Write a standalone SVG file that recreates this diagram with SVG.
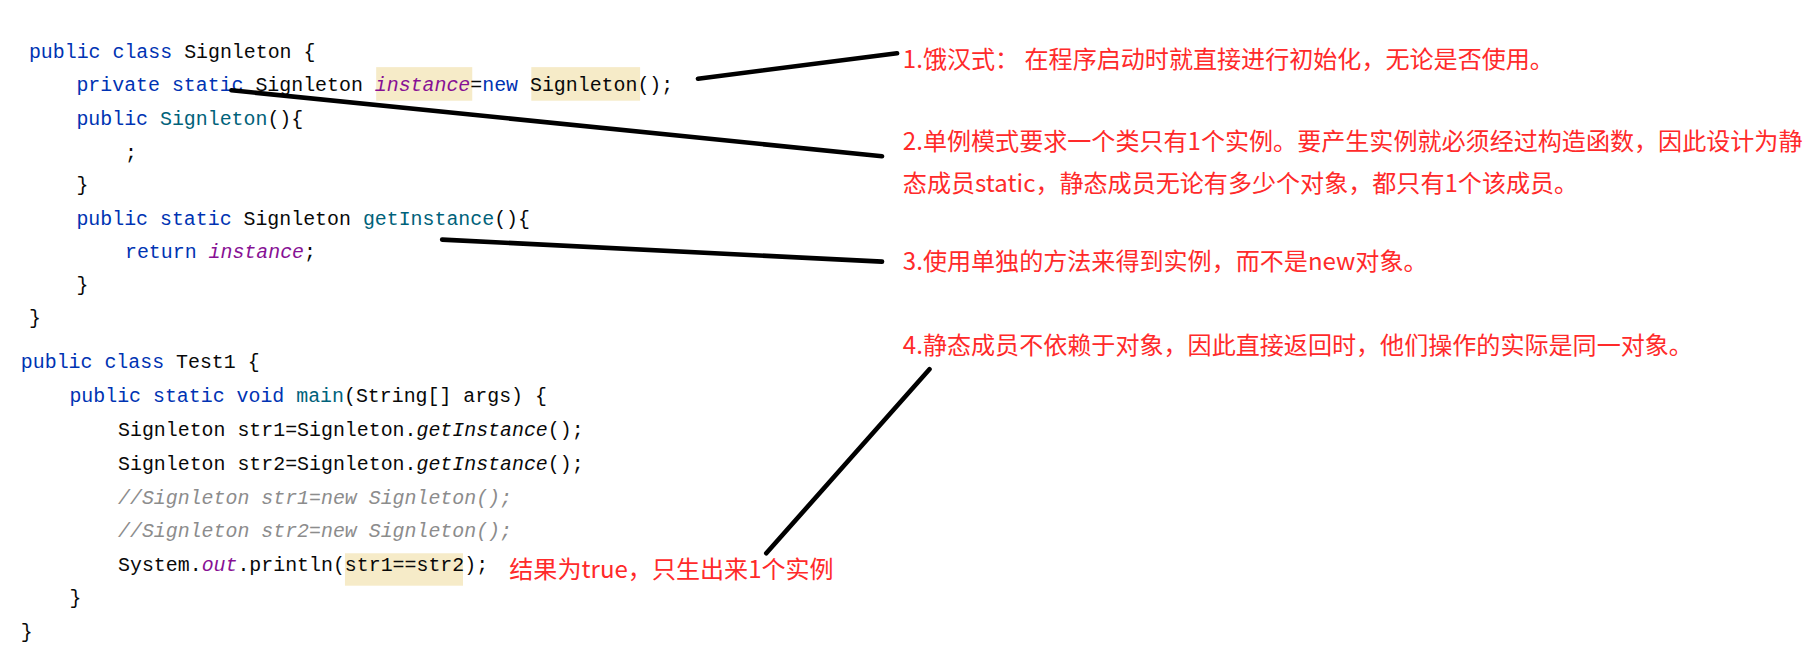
<svg xmlns="http://www.w3.org/2000/svg" width="1815" height="655" viewBox="0 0 1815 655">
<style>
.c{font-family:"Liberation Mono","DejaVu Sans Mono",monospace;font-size:17.2px;fill:#080808;white-space:pre}
.k{fill:#0033b3}.f{fill:#871094;font-style:italic}.m{fill:#00627a}.i{font-style:italic}.g{fill:#8c8c8c;font-style:italic}
.r{font-family:"Noto Sans CJK SC","Noto Sans",sans-serif;font-size:20.8px;fill:#ff2a2a}
.hl{fill:#f6ebc8}
.ln{stroke:#000;stroke-width:4;stroke-linecap:round;fill:none}
</style>
<rect width="1815" height="655" fill="#fff"/>
<g transform="scale(1.1575)">
<g id="code">
<rect class="hl" x="325" y="58" width="83" height="29"/>
<rect class="hl" x="459" y="58" width="94" height="29"/>
<rect class="hl" x="298" y="478" width="102" height="28"/>
<text class="c" x="25" y="50"><tspan class="k">public class </tspan>Signleton {</text>
<text class="c" x="66" y="79"><tspan class="k">private static </tspan>Signleton <tspan class="f">instance</tspan>=<tspan class="k">new </tspan>Signleton();</text>
<text class="c" x="66" y="108"><tspan class="k">public </tspan><tspan class="m">Signleton</tspan>(){</text>
<text class="c" x="108" y="137" fill="#8c8c8c">;</text>
<text class="c" x="66" y="165">}</text>
<text class="c" x="66" y="194"><tspan class="k">public static </tspan>Signleton <tspan class="m">getInstance</tspan>(){</text>
<text class="c" x="108" y="223"><tspan class="k">return </tspan><tspan class="f">instance</tspan>;</text>
<text class="c" x="66" y="251">}</text>
<text class="c" x="25" y="280">}</text>
<text class="c" x="18" y="318"><tspan class="k">public class </tspan>Test1 {</text>
<text class="c" x="60" y="347"><tspan class="k">public static void </tspan><tspan class="m">main</tspan>(String[] args) {</text>
<text class="c" x="102" y="377">Signleton str1=Signleton.<tspan class="i">getInstance</tspan>();</text>
<text class="c" x="102" y="406">Signleton str2=Signleton.<tspan class="i">getInstance</tspan>();</text>
<text class="c g" x="102" y="435">//Signleton str1=new Signleton();</text>
<text class="c g" x="102" y="464">//Signleton str2=new Signleton();</text>
<text class="c" x="102" y="493">System.<tspan class="f">out</tspan>.println(str1==str2);</text>
<text class="c" x="60" y="522">}</text>
<text class="c" x="18" y="551">}</text>
</g>
<g id="connectors">
<line class="ln" x1="603" y1="68" x2="775" y2="46"/>
<line class="ln" x1="200" y1="78" x2="762" y2="135"/>
<line class="ln" x1="382" y1="207" x2="762" y2="226"/>
<line class="ln" x1="803" y1="319" x2="662" y2="478"/>
</g>
<g id="notes">
<text class="r" x="780" y="59">1.饿汉式： 在程序启动时就直接进行初始化，无论是否使用。</text>
<text class="r" x="780" y="130">2.单例模式要求一个类只有1个实例。要产生实例就必须经过构造函数，因此设计为静</text>
<text class="r" x="780" y="166">态成员static，静态成员无论有多少个对象，都只有1个该成员。</text>
<text class="r" x="780" y="233">3.使用单独的方法来得到实例，而不是new对象。</text>
<text class="r" x="780" y="306">4.静态成员不依赖于对象，因此直接返回时，他们操作的实际是同一对象。</text>
<text class="r" x="440" y="499">结果为true，只生出来1个实例</text>
</g>
</g>
</svg>
